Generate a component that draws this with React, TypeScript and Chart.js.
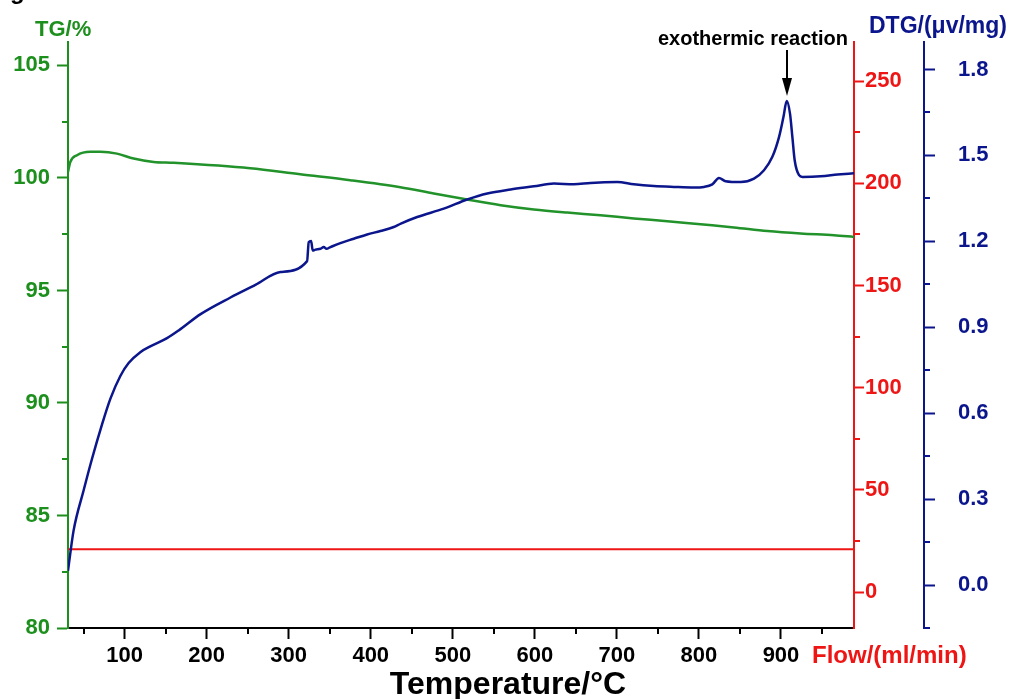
import React, { useEffect, useRef } from "react";
import { Chart, registerables } from "chart.js";

Chart.register(...registerables);

// ---------- data ----------
const dtgTemp = [31, 37.8, 50, 60.2, 72.4, 82.6, 94.8, 104.9, 119.1, 131.3, 151.7, 165.9, 192.6, 229, 259.4, 290, 322.4, 324.4, 327.3, 329.3, 332.6, 338.7, 342.7, 346, 350.9, 363, 379.3, 395.6, 411.8, 428, 436.7, 456.6, 489, 517.6, 542, 570.4, 598.8, 623.2, 647.6, 667.9, 700.5, 720.7, 745.1, 769.5, 793.9, 806.1, 816.3, 824.4, 832.5, 850.9, 867.1, 879.3, 889.5, 897.6, 903, 907, 911, 913.9, 916.7, 922, 926.1, 948.4, 968.8, 989];
const dtgValue = [0.05, 0.19, 0.33, 0.44, 0.56, 0.65, 0.73, 0.775, 0.813, 0.833, 0.862, 0.889, 0.946, 1.004, 1.048, 1.093, 1.131, 1.197, 1.201, 1.168, 1.171, 1.174, 1.18, 1.174, 1.18, 1.194, 1.209, 1.224, 1.236, 1.25, 1.262, 1.285, 1.314, 1.346, 1.367, 1.381, 1.392, 1.402, 1.399, 1.404, 1.407, 1.399, 1.393, 1.39, 1.388, 1.39, 1.399, 1.421, 1.41, 1.407, 1.419, 1.448, 1.495, 1.564, 1.634, 1.69, 1.646, 1.564, 1.483, 1.431, 1.425, 1.427, 1.433, 1.438];

const tgTemp = [31, 33.8, 42, 58.2, 70.4, 90.7, 111, 135.4, 159.8, 253, 314, 375, 436, 476.8, 517.6, 558.3, 598.8, 639.5, 680, 720.7, 761.5, 802, 842.7, 883.4, 924, 964.6, 989];
const tgValue = [100.27, 100.71, 101.01, 101.16, 101.16, 101.08, 100.86, 100.71, 100.67, 100.43, 100.16, 99.9, 99.59, 99.31, 99.04, 98.79, 98.6, 98.46, 98.34, 98.2, 98.08, 97.94, 97.8, 97.64, 97.53, 97.45, 97.38];

const flowTemp = [31, 989];
const flowValue = [21, 21];

const xMajorTicks = [100, 200, 300, 400, 500, 600, 700, 800, 900];
const xMinorTicks = [50, 150, 250, 350, 450, 550, 650, 750, 850, 950];
const tgMajorTicks = [80, 85, 90, 95, 100, 105];
const tgMinorTicks = [82.5, 87.5, 92.5, 97.5, 102.5];
const flowMajorTicks = [0, 50, 100, 150, 200, 250];
const flowMinorTicks = [25, 75, 125, 175, 225];
const dtgMajorTicks = [0, 0.3, 0.6, 0.9, 1.2, 1.5, 1.8];
const dtgMinorTicks = [-0.15, 0.15, 0.45, 0.75, 1.05, 1.35, 1.65];

const annotationText = "exothermic reaction";
const annotationTemp = 907;

// ---------- styles ----------
const GREEN = "#1c8f1c";
const GREEN_LINE = "#22922a";
const RED = "#ee1515";
const NAVY = "#0c168c";
const FONT = "'Liberation Sans', Arial, sans-serif";

const pts = (xs: number[], ys: number[]) => xs.map((x, i) => ({ x, y: ys[i] }));

const overlayPlugin = {
  id: "overlay",
  afterDraw(chart: any) {
    const ctx = chart.ctx as CanvasRenderingContext2D;
    const { x, yTG, yFlow, yDTG } = chart.scales;
    ctx.save();
    const seg = (x1: number, y1: number, x2: number, y2: number, c: string) => {
      ctx.strokeStyle = c;
      ctx.lineWidth = 2;
      ctx.beginPath();
      ctx.moveTo(x1, y1);
      ctx.lineTo(x2, y2);
      ctx.stroke();
    };
    const M = 6;
    xMinorTicks.forEach((v) => {
      const p = Math.round(x.getPixelForValue(v));
      seg(p, x.top, p, x.top + M, "#000");
    });
    tgMinorTicks.forEach((v) => {
      const p = Math.round(yTG.getPixelForValue(v));
      seg(yTG.right - M, p, yTG.right, p, GREEN);
    });
    flowMinorTicks.forEach((v) => {
      const p = Math.round(yFlow.getPixelForValue(v));
      seg(yFlow.left, p, yFlow.left + M, p, RED);
    });
    dtgMinorTicks.forEach((v) => {
      const p = Math.round(yDTG.getPixelForValue(v));
      seg(yDTG.left, p, yDTG.left + M, p, NAVY);
    });

    // titles
    ctx.textBaseline = "alphabetic";
    ctx.textAlign = "left";
    ctx.fillStyle = "#000";
    ctx.font = `bold 24px ${FONT}`;
    ctx.fillText("g", 10, -1);

    ctx.fillStyle = GREEN;
    ctx.font = `bold 22px ${FONT}`;
    ctx.fillText("TG/%", 35, 36);

    ctx.fillStyle = NAVY;
    ctx.font = `bold 23px ${FONT}`;
    ctx.textAlign = "right";
    ctx.fillText("DTG/(μv/mg)", 1007, 33);

    ctx.textAlign = "left";
    ctx.fillStyle = RED;
    ctx.font = `bold 24px ${FONT}`;
    ctx.fillText("Flow/(ml/min)", 812, 663);

    ctx.fillStyle = "#000";
    ctx.font = `bold 32px ${FONT}`;
    ctx.textAlign = "center";
    ctx.fillText("Temperature/°C", 508, 694);

    // annotation
    ctx.font = `bold 20px ${FONT}`;
    ctx.textAlign = "right";
    ctx.fillText(annotationText, 848, 45);
    const ax = Math.round(x.getPixelForValue(annotationTemp));
    seg(ax, 50, ax, 82, "#000");
    ctx.fillStyle = "#000";
    ctx.beginPath();
    ctx.moveTo(ax - 5, 78);
    ctx.lineTo(ax + 5, 78);
    ctx.lineTo(ax, 96);
    ctx.closePath();
    ctx.fill();
    ctx.restore();
  },
};

export default function App() {
  const ref = useRef<HTMLCanvasElement | null>(null);
  useEffect(() => {
    if (!ref.current) return;
    const tickFont = { family: FONT, size: 22, weight: "bold" as const };
    const chart = new Chart(ref.current, {
      type: "line",
      data: {
        datasets: [
          {
            label: "DTG",
            data: pts(dtgTemp, dtgValue),
            yAxisID: "yDTG",
            borderColor: NAVY,
            borderWidth: 2.5,
            pointRadius: 0,
            cubicInterpolationMode: "monotone",
          },
          {
            label: "TG",
            data: pts(tgTemp, tgValue),
            yAxisID: "yTG",
            borderColor: GREEN_LINE,
            borderWidth: 2.5,
            pointRadius: 0,
            cubicInterpolationMode: "monotone",
          },
          {
            label: "Flow",
            data: pts(flowTemp, flowValue),
            yAxisID: "yFlow",
            borderColor: RED,
            borderWidth: 2,
            pointRadius: 0,
          },
        ],
      },
      options: {
        responsive: false,
        animation: false,
        devicePixelRatio: 1,
        layout: { padding: { top: 42, left: 0, right: 0, bottom: 0 } },
        plugins: { legend: { display: false }, tooltip: { enabled: false } },
        scales: {
          x: {
            type: "linear",
            position: "bottom",
            min: 31,
            max: 989,
            border: { color: "#000", width: 2 },
            grid: { drawOnChartArea: false, tickLength: 11, tickWidth: 2, tickColor: "#000" },
            ticks: { color: "#000", font: tickFont, padding: 4, maxRotation: 0, autoSkip: false },
            afterBuildTicks: (s: any) => {
              s.ticks = xMajorTicks.map((v) => ({ value: v }));
            },
            afterFit: (s: any) => {
              s.height = 71;
            },
          },
          yTG: {
            type: "linear",
            position: "left",
            min: 80,
            max: 106.04,
            border: { color: GREEN, width: 2 },
            grid: { drawOnChartArea: false, tickLength: 11, tickWidth: 2, tickColor: GREEN },
            ticks: { color: GREEN, font: tickFont, padding: 7, autoSkip: false },
            afterBuildTicks: (s: any) => {
              s.ticks = tgMajorTicks.map((v) => ({ value: v }));
            },
            afterFit: (s: any) => {
              s.width = 68;
            },
          },
          yFlow: {
            type: "linear",
            position: "right",
            weight: 0,
            min: -17.6,
            max: 269.2,
            border: { color: RED, width: 2 },
            grid: { drawOnChartArea: false, tickLength: 10, tickWidth: 2, tickColor: RED },
            ticks: { color: RED, font: tickFont, padding: 1, autoSkip: false },
            afterBuildTicks: (s: any) => {
              s.ticks = flowMajorTicks.map((v) => ({ value: v }));
            },
            afterFit: (s: any) => {
              s.width = 70;
            },
          },
          yDTG: {
            type: "linear",
            position: "right",
            weight: 1,
            min: -0.15,
            max: 1.896,
            border: { color: NAVY, width: 2 },
            grid: { drawOnChartArea: false, tickLength: 11, tickWidth: 2, tickColor: NAVY },
            ticks: {
              color: NAVY,
              font: tickFont,
              padding: 23,
              autoSkip: false,
              callback: (v: any) => Number(v).toFixed(1),
            },
            afterBuildTicks: (s: any) => {
              s.ticks = dtgMajorTicks.map((v) => ({ value: v }));
            },
            afterFit: (s: any) => {
              s.width = 87;
            },
          },
        },
      },
      plugins: [overlayPlugin],
    });
    return () => chart.destroy();
  }, []);

  return (
    <div style={{ position: "fixed", left: 0, top: 0, width: 1011, height: 699, background: "#fff" }}>
      <canvas ref={ref} width={1011} height={699} style={{ display: "block" }} />
    </div>
  );
}
